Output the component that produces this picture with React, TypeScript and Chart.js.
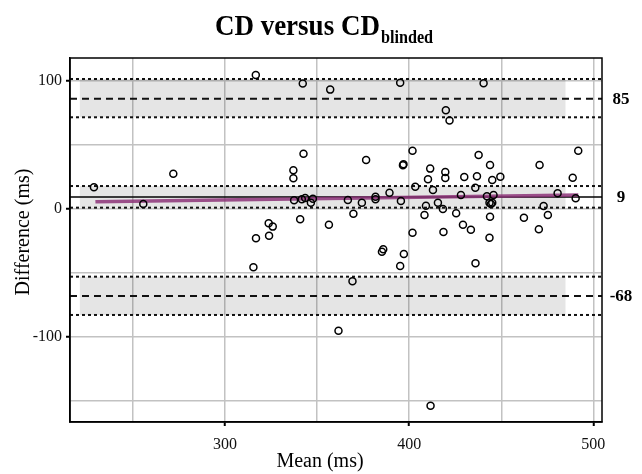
import React, { useEffect, useRef } from "react";
import { Chart, registerables } from "chart.js";

Chart.register(...registerables);

// ---- data ----
const meanValues = [
  228.8, 255.6, 271.9, 316.7, 342.2, 357.1, 395.1, 440.4, 419.9, 421.9,
  342.6, 337.1, 337.1, 376.6, 396.9, 396.6, 401.8, 411.4, 410.2, 419.6,
  419.6, 403.3, 412.9, 337.5, 341.7, 343.5, 346.6, 347.7, 366.7, 374.3,
  381.7, 381.7, 389.3, 395.5, 409.1, 415.6, 418.3, 408.3, 369.7, 340.8,
  356.4, 401.8, 418.6, 323.7, 325.9, 323.9, 316.8, 437.7, 443.9, 429.9,
  436.8, 445.1, 449.5, 435.9, 428.1, 442.2, 445.8, 443.6, 445.1, 444.4,
  425.5, 443.9, 429.2, 433.5, 443.6, 470.8, 491.8, 488.8, 480.6, 490.4,
  473.0, 475.3, 462.3, 470.4, 315.4, 369.2, 361.6, 385.9, 385.2, 397.1,
  395.1, 411.6, 436.0,
];
const diffValues = [
  16.7, 3.7, 27.3, 104.5, 97.7, 93.0, 98.4, 98.0, 76.9, 68.8,
  43.0, 30.0, 23.7, 38.0, 34.7, 33.9, 45.3, 31.3, 23.0, 28.7,
  24.0, 17.2, 14.6, 6.6, 7.3, 8.4, 4.7, 7.8, 6.8, 4.7,
  9.4, 7.3, 12.5, 6.0, 2.3, 4.7, -0.2, -4.9, -3.9, -8.3,
  -12.5, -18.8, -18.2, -11.4, -14.0, -21.1, -23.1, 42.0, 34.1, 24.8,
  25.3, 22.4, 25.0, 16.4, 10.7, 9.7, 10.7, 4.7, 4.7, 3.7,
  -3.6, -6.3, -12.5, -16.4, -22.7, 34.1, 45.3, 24.2, 12.0, 8.1,
  2.1, -4.9, -7.0, -16.1, -45.8, -56.7, -95.3, -31.7, -33.6, -35.4,
  -44.8, -153.9, -42.7,
];

// limits of agreement: upper, bias, lower
const limitValues = [85.9, 9.2, -68.2];
const limitLabels = ["85", "9", "-68"];
// confidence intervals [high, low] for each limit
const ciHigh = [101.3, 17.7, -53.1];
const ciLow = [71.4, 0.8, -83.0];
const bandRange = [221, 485];

// regression of difference on mean
const regMeans = [229.6, 491.8];
const regDiffs = [5.5, 10.7];

const xRange = [215.8, 504.7];
const yRange = [-166.6, 117.7];
const xLabelTicks = [300, 400, 500];
const yLabelTicks = [-100, 0, 100];

const FONT = '"Liberation Serif", "Times New Roman", serif';

const textPlugin = {
  id: "textPlugin",
  afterDraw(chart: any) {
    const ctx = chart.ctx;
    const a = chart.chartArea;
    const ys = chart.scales.y;
    ctx.save();
    // frame
    ctx.strokeStyle = "#000";
    ctx.lineWidth = 1.5;
    ctx.strokeRect(a.left, a.top, a.right - a.left, a.bottom - a.top);

    ctx.fillStyle = "#000";
    // title
    const sx = 0.9;
    ctx.font = `bold 30px ${FONT}`;
    const mainText = "CD versus CD";
    const w1 = ctx.measureText(mainText).width * sx;
    ctx.font = `bold 18px ${FONT}`;
    const subText = "blinded";
    const w2 = ctx.measureText(subText).width * sx;
    const total = w1 + 1 + w2;
    const startX = 324 - total / 2;
    ctx.textAlign = "left";
    ctx.textBaseline = "alphabetic";
    ctx.save();
    ctx.translate(startX, 35);
    ctx.scale(sx, 1);
    ctx.font = `bold 30px ${FONT}`;
    ctx.fillText(mainText, 0, 0);
    ctx.restore();
    ctx.save();
    ctx.translate(startX + w1 + 1, 43);
    ctx.scale(sx, 1);
    ctx.font = `bold 18px ${FONT}`;
    ctx.fillText(subText, 0, 0);
    ctx.restore();

    // axis titles
    ctx.font = `20px ${FONT}`;
    ctx.textAlign = "center";
    ctx.textBaseline = "alphabetic";
    ctx.fillText("Mean (ms)", 320, 467);
    ctx.save();
    ctx.translate(29, 232);
    ctx.rotate(-Math.PI / 2);
    ctx.fillText("Difference (ms)", 0, 0);
    ctx.restore();

    // right labels
    ctx.font = `bold 17px ${FONT}`;
    ctx.textAlign = "center";
    ctx.textBaseline = "middle";
    limitValues.forEach((v, i) => {
      ctx.fillText(limitLabels[i], 621, ys.getPixelForValue(v) + 1);
    });
    ctx.restore();
  },
};

function hLine(y: number, dash: number[], width: number, color: string, order: number) {
  return {
    type: "scatter" as const,
    data: [
      { x: xRange[0], y },
      { x: xRange[1], y },
    ],
    showLine: true,
    borderColor: color,
    borderWidth: width,
    borderDash: dash,
    pointRadius: 0,
    order,
  };
}

export default function App() {
  const ref = useRef<HTMLCanvasElement | null>(null);
  useEffect(() => {
    if (!ref.current) return;
    const datasets: any[] = [];
    // bands
    ciHigh.forEach((hi, i) => {
      datasets.push({
        data: [
          { x: bandRange[0], y: hi },
          { x: bandRange[1], y: hi },
        ],
        showLine: true,
        borderWidth: 0,
        borderColor: "rgba(0,0,0,0)",
        backgroundColor: "rgba(0,0,0,0.1)",
        fill: { value: ciLow[i] },
        pointRadius: 0,
        order: 20,
      });
    });
    // CI dotted lines
    ciHigh.forEach((hi, i) => {
      datasets.push(hLine(hi, [3, 3], 2, "#111", 10));
      datasets.push(hLine(ciLow[i], [3, 3], 2, "#111", 10));
    });
    // limits
    datasets.push(hLine(limitValues[0], [7, 5], 2, "#111", 9));
    datasets.push(hLine(limitValues[2], [7, 5], 2, "#111", 9));
    datasets.push(hLine(limitValues[1], [], 1.5, "#000", 8));
    // regression
    datasets.push({
      data: regMeans.map((m, i) => ({ x: m, y: regDiffs[i] })),
      showLine: true,
      borderColor: "rgba(140, 50, 120, 0.85)",
      borderWidth: 3.5,
      pointRadius: 0,
      order: 5,
    });
    // points
    datasets.push({
      data: meanValues.map((m, i) => ({ x: m, y: diffValues[i] })),
      pointRadius: 3.5,
      pointBorderWidth: 1.5,
      pointBorderColor: "#000",
      pointBackgroundColor: "rgba(0,0,0,0)",
      borderColor: "#000",
      backgroundColor: "rgba(0,0,0,0)",
      order: 1,
    });

    const tickColorFn = (labels: number[]) => (c: any) =>
      c.tick && labels.includes(c.tick.value) ? "#000" : "rgba(0,0,0,0)";

    const chart = new Chart(ref.current, {
      type: "scatter",
      data: { datasets },
      options: {
        animation: false,
        responsive: false,
        devicePixelRatio: 1,
        layout: { padding: { left: 0, right: 40, top: 58, bottom: 0 } },
        plugins: {
          legend: { display: false },
          title: { display: false },
          tooltip: { enabled: false },
        },
        scales: {
          x: {
            type: "linear",
            min: xRange[0],
            max: xRange[1],
            afterFit: (s: any) => {
              s.height = 52;
            },
            ticks: {
              stepSize: 50,
              includeBounds: false,
              autoSkip: false,
              maxRotation: 0,
              padding: 9,
              color: "#111",
              font: { family: FONT, size: 16 },
              callback: (v: any) => (xLabelTicks.includes(Number(v)) ? String(v) : ""),
            },
            grid: {
              color: "#c2c2c2",
              lineWidth: 1.5,
              tickLength: 4,
              tickWidth: 2,
              tickColor: tickColorFn(xLabelTicks),
            },
            border: { color: "#000", width: 1.5 },
          },
          y: {
            type: "linear",
            min: yRange[0],
            max: yRange[1],
            afterFit: (s: any) => {
              s.width = 70;
            },
            ticks: {
              stepSize: 50,
              includeBounds: false,
              autoSkip: false,
              padding: 4,
              color: "#111",
              font: { family: FONT, size: 16 },
              callback: (v: any) => (yLabelTicks.includes(Number(v)) ? String(v) : ""),
            },
            grid: {
              color: "#c2c2c2",
              lineWidth: 1.5,
              tickLength: 4,
              tickWidth: 2,
              tickColor: tickColorFn(yLabelTicks),
            },
            border: { color: "#000", width: 1.5 },
          },
        },
      } as any,
      plugins: [textPlugin],
    });
    return () => chart.destroy();
  }, []);

  return (
    <div style={{ position: "fixed", left: 0, top: 0, width: 642, height: 474, background: "#fff" }}>
      <canvas ref={ref} width={642} height={474} style={{ display: "block" }} />
    </div>
  );
}
